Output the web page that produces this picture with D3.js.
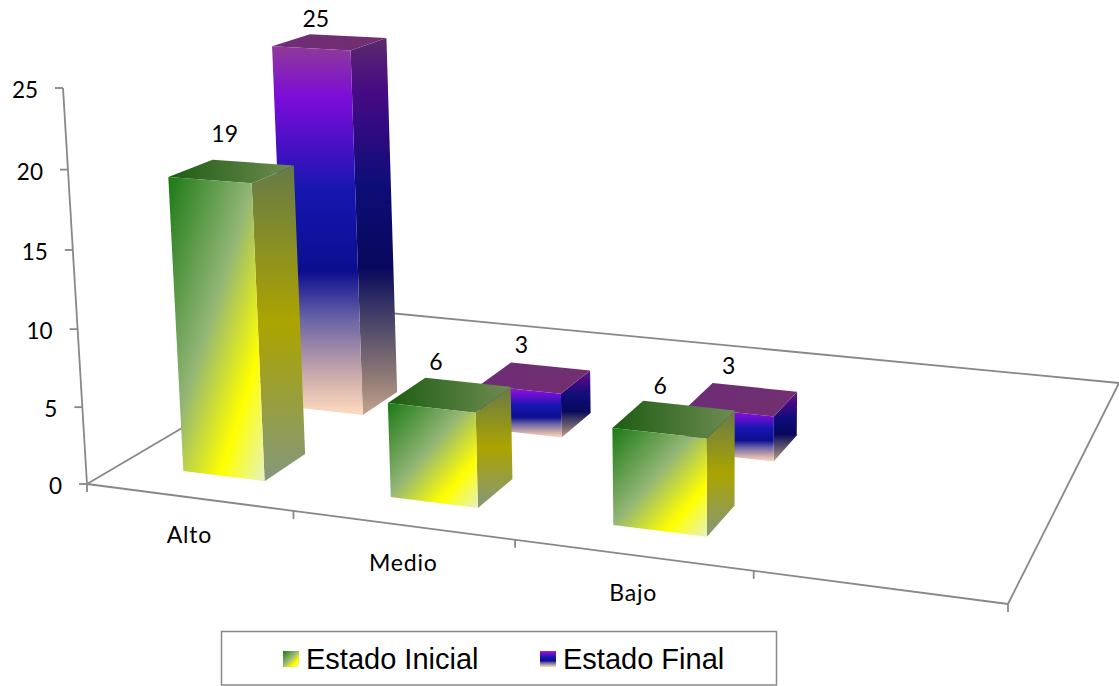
<!DOCTYPE html>
<html>
<head>
<meta charset="utf-8">
<script src="https://cdn.jsdelivr.net/npm/d3@7"></script>
<style>
	html, body { margin: 0; padding: 0; background: #fff; }
	svg { display: block; }
	text { font-family: Lato, sans-serif; fill: #000; }
	.legend-label { font-family: "Liberation Sans", Arial, sans-serif; }
</style>
</head>
<body>
<div id="chart"></div>
<script>
var categories = ['Alto', 'Medio', 'Bajo', ''];
var seriesNames = ['Estado Inicial', 'Estado Final'];
var estadoInicial = [19, 6, 6];
var estadoFinal = [25, 3, 3];
var valueTicks = [0, 5, 10, 15, 20, 25];

var width = 1119, height = 686;

// Floor corners on screen: front left, front right, back right, back left
var floorQuad = [[87, 484], [1008, 604], [1119, 383], [379, 312]];
var axisColor = '#888888';

var svg = d3.select('#chart').append('svg')
	.attr('width', width)
	.attr('height', height);

var xScale = d3.scaleBand().domain(categories).range([0.002, 1.009]).paddingInner(0.6).paddingOuter(0.3);
var xTickScale = d3.scaleBand().domain(categories).range([0, 1.003]);
var depthScale = d3.scaleBand().domain(seriesNames).range([0, 0.658]).paddingInner(0.608).paddingOuter(0.295);
var valueScale = d3.scaleLinear().domain([0, 25]).range([0, 1]);

var project = makeProjection(floorQuad, [63, 88], 250, 15);

function makeProjection(q, axisTop, midY, midValue) {
	var x0 = q[0][0], y0 = q[0][1], x1 = q[1][0], y1 = q[1][1],
		x2 = q[2][0], y2 = q[2][1], x3 = q[3][0], y3 = q[3][1];
	var dx1 = x1 - x2, dx2 = x3 - x2, sx = x0 - x1 + x2 - x3,
		dy1 = y1 - y2, dy2 = y3 - y2, sy = y0 - y1 + y2 - y3,
		den = dx1 * dy2 - dx2 * dy1;
	var g = (sx * dy2 - dx2 * sy) / den,
		h = (dx1 * sy - sx * dy1) / den;
	var a = x1 - x0 + g * x1, b = x3 - x0 + h * x3,
		d = y1 - y0 + g * y1, e = y3 - y0 + h * y3;

	// Perspective along the height comes from the value axis itself
	var t = valueScale(midValue);
	var i = ((y0 - midY) / t - (y0 - axisTop[1])) / (midY - axisTop[1]);
	var cy = axisTop[1] * (1 + i) - y0;
	var cx = axisTop[0] * (1 + i) - x0;

	return function(u, depth, value) {
		var v = valueScale(value);
		var w = g * u + h * depth + i * v + 1;
		return [
			(a * u + b * depth + cx * v + x0) / w,
			(d * u + e * depth + cy * v + y0) / w
		];
	};
}

function addGradient(id, x2, y2, stops) {
	var grad = defs.append('linearGradient')
		.attr('id', id)
		.attr('x1', 0).attr('y1', 0)
		.attr('x2', x2).attr('y2', y2);
	grad.selectAll('stop')
		.data(stops)
		.enter()
		.append('stop')
		.attr('offset', function(s) { return s[0]; })
		.attr('stop-color', function(s) { return s[1]; });
}

var defs = svg.append('defs');

addGradient('green-front', 1, 1, [[0, '#1b7a14'], [0.45, '#93b676'], [0.76, '#ffff00'], [1, '#e6f2c0']]);
addGradient('green-side', 0, 1, [[0, '#667a48'], [0.5, '#aca400'], [1, '#84987c']]);
addGradient('green-top', 1, 0, [[0, '#1c5c12'], [1, '#6f8c52']]);

var purpleStops = [[0, '#8f3a98'], [0.14, '#7c0cd8'], [0.39, '#1616b0'], [0.61, '#0c0e90'], [0.74, '#6a64a6'], [0.9, '#d0aeab'], [1, '#ffdcc0']];
var purpleSideStops = [[0, '#5a2a6c'], [0.14, '#470a84'], [0.39, '#0d0d78'], [0.61, '#07085c'], [0.74, '#454068'], [0.9, '#8f7a76'], [1, '#c4a48e']];
addGradient('purple-front', 0, 1, purpleStops);
addGradient('purple-side', 0, 1, purpleSideStops);
addGradient('purple-top', 1, 0, [[0, '#6d2d76'], [1, '#722f70']]);

function line(p, q) {
	svg.append('line')
		.attr('x1', p[0]).attr('y1', p[1])
		.attr('x2', q[0]).attr('y2', q[1])
		.attr('stroke', axisColor)
		.attr('stroke-width', 1.8);
}

function drawFloor() {
	line(project(0, 0, 0), project(1, 0, 0));
	line(project(1, 0, 0), project(1, 1, 0));
	line(project(1, 1, 0), project(0, 1, 0));
	line(project(0, 1, 0), project(0, 0, 0));
}

function drawAxes() {
	line(project(0, 0, 0), project(0, 0, 25));

	valueTicks.forEach(function(tick) {
		var p = project(0, 0, tick);
		line(p, [p[0] - 8, p[1]]);
		svg.append('text')
			.attr('x', p[0] - 25)
			.attr('y', p[1] + 10)
			.attr('text-anchor', 'end')
			.attr('font-size', 22.5)
			.text(tick);
	});

	categories.forEach(function(cat, i) {
		var left = xTickScale(cat);
		var p = project(left, 0, 0);
		line(p, [p[0], p[1] + 8]);
		if (cat) {
			var c = project(left + xTickScale.bandwidth() / 2, 0, 0);
			svg.append('text')
				.attr('x', c[0] + 1)
				.attr('y', c[1] + 45.5)
				.attr('text-anchor', 'middle')
				.attr('font-size', 23)
				.attr('letter-spacing', 0.8)
				.text(cat);
		}
	});
	var end = project(1, 0, 0);
	line(end, [end[0], end[1] + 8]);
}

function polygon(points, fill) {
	svg.append('polygon')
		.attr('points', points.map(function(p) { return p.join(','); }).join(' '))
		.attr('fill', 'url(#' + fill + ')');
}

function drawBar(cat, seriesName, value, prefix) {
	var u0 = xScale(cat), u1 = u0 + xScale.bandwidth(),
		d0 = depthScale(seriesName), d1 = d0 + depthScale.bandwidth();

	polygon([project(u1, d0, 0), project(u1, d1, 0), project(u1, d1, value), project(u1, d0, value)], prefix + '-side');
	polygon([project(u0, d0, value), project(u1, d0, value), project(u1, d1, value), project(u0, d1, value)], prefix + '-top');
	polygon([project(u0, d0, 0), project(u1, d0, 0), project(u1, d0, value), project(u0, d0, value)], prefix + '-front');
}

function drawLabel(cat, seriesName, value) {
	var c = project(xScale(cat) + xScale.bandwidth() / 2, depthScale(seriesName) + depthScale.bandwidth() / 2, value);
	// the Alto/Inicial label sits a bit further right and up than the others
	var nudge = (cat === 'Alto' && seriesName === seriesNames[0]) ? [7, -4] : [0, 0];
	svg.append('text')
		.attr('x', c[0] - 14 + nudge[0])
		.attr('y', Math.max(c[1] - 25 + nudge[1], 27))
		.attr('text-anchor', 'middle')
		.attr('font-size', 23)
		.text(value);
}

function drawLegend() {
	svg.append('rect')
		.attr('x', 221.5).attr('y', 631.5)
		.attr('width', 555).attr('height', 53.5)
		.attr('fill', '#fff')
		.attr('stroke', axisColor)
		.attr('stroke-width', 1.5);

	var items = [
		{ name: seriesNames[0], fill: 'green-front', x: 283 },
		{ name: seriesNames[1], fill: 'purple-front', x: 540 }
	];
	items.forEach(function(item) {
		svg.append('rect')
			.attr('x', item.x).attr('y', 651)
			.attr('width', 16).attr('height', 16)
			.attr('fill', 'url(#' + item.fill + ')');
		svg.append('text')
			.attr('class', 'legend-label')
			.attr('x', item.x + 23)
			.attr('y', 669)
			.attr('font-size', 29)
			.text(item.name);
	});
}

drawFloor();
drawAxes();

estadoFinal.forEach(function(value, i) {
	drawBar(categories[i], seriesNames[1], value, 'purple');
});
estadoInicial.forEach(function(value, i) {
	drawBar(categories[i], seriesNames[0], value, 'green');
});
estadoInicial.forEach(function(value, i) {
	drawLabel(categories[i], seriesNames[0], value);
	drawLabel(categories[i], seriesNames[1], estadoFinal[i]);
});

drawLegend();
</script>
</body>
</html>
